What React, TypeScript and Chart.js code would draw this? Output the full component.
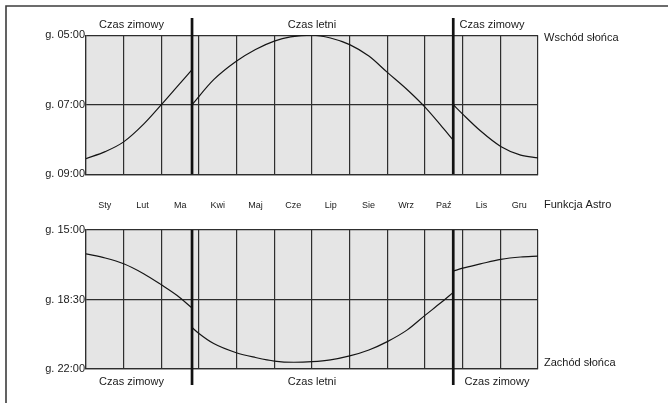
import React, { useEffect, useRef } from "react";
import { Chart, registerables } from "chart.js";

Chart.register(...registerables);

// ---- data ----
const monthLabels = ["Sty", "Lut", "Ma", "Kwi", "Maj", "Cze", "Lip", "Sie", "Wrz", "Paź", "Lis", "Gru"];
const monthCenters = [0.5, 1.5, 2.5, 3.5, 4.5, 5.5, 6.5, 7.5, 8.5, 9.5, 10.5, 11.5];
const dstSwitch = [2.815, 9.75];

// sunrise (hours), x in months
const riseWinter1X = [0, 0.51, 1, 1.53, 2, 2.42, 2.815];
const riseWinter1Y = [8.55, 8.35, 8.07, 7.56, 7.0, 6.48, 5.99];
const riseSummerX = [2.815, 3.39, 3.99, 4.5, 5.0, 5.43, 6.0, 6.49, 7.0, 7.51, 8.0, 8.53, 9.0, 9.41, 9.75];
const riseSummerY = [7.0, 6.28, 5.75, 5.41, 5.17, 5.05, 5.0, 5.08, 5.27, 5.6, 6.07, 6.57, 7.07, 7.58, 8.02];
const riseWinter2X = [9.75, 10.0, 10.47, 11.01, 11.54, 12];
const riseWinter2Y = [7.0, 7.27, 7.75, 8.2, 8.45, 8.53];

// sunset (hours)
const setWinter1X = [0, 0.51, 1, 1.53, 2, 2.42, 2.815];
const setWinter1Y = [16.2, 16.41, 16.7, 17.2, 17.76, 18.3, 18.93];
const setSummerX = [2.815, 2.99, 3.39, 3.99, 4.5, 5.0, 5.52, 6.0, 6.49, 7.0, 7.51, 8.0, 8.53, 9.0, 9.41, 9.75];
const setSummerY = [19.91, 20.2, 20.72, 21.18, 21.42, 21.6, 21.66, 21.63, 21.54, 21.34, 21.04, 20.62, 20.03, 19.3, 18.68, 18.14];
const setWinter2X = [9.75, 10.0, 10.47, 11.01, 11.54, 12];
const setWinter2Y = [17.07, 16.92, 16.71, 16.48, 16.36, 16.32];

const riseTicks = [5, 7, 9];
const setTicks = [15, 18.5, 22];

// ---- styles ----
const FONT = "'Liberation Sans', Arial, sans-serif";
const TEXT = "#1a1a1a";
const GRID = "#2e2e2e";
const BG = "#e5e5e5";
const W = 668;
const H = 403;

const pts = (xs: number[], ys: number[]) => xs.map((x, i) => ({ x, y: ys[i] }));

const fmt = (v: number) => {
  const h = Math.floor(v);
  const m = Math.round((v - h) * 60);
  return `g. ${String(h).padStart(2, "0")}:${String(m).padStart(2, "0")}`;
};

const lineDs = (data: { x: number; y: number }[]) => ({
  type: "line" as const,
  data,
  borderColor: "#151515",
  borderWidth: 1.2,
  pointRadius: 0,
  fill: false,
  cubicInterpolationMode: "monotone" as const,
});

type Panel = {
  texts: { t: string; x: number; y: number; align: CanvasTextAlign }[];
  thickTop: number;
  thickBottom: number;
  frame: boolean;
};

const panelPlugin = {
  id: "panelDeco",
  beforeDraw(chart: any) {
    const { ctx, chartArea } = chart;
    ctx.save();
    ctx.fillStyle = BG;
    ctx.fillRect(chartArea.left, chartArea.top, chartArea.right - chartArea.left, chartArea.bottom - chartArea.top);
    ctx.restore();
  },
  afterDraw(chart: any, _a: any, opts: Panel) {
    const { ctx } = chart;
    const xs = chart.scales.x;
    ctx.save();
    // DST switch lines
    ctx.strokeStyle = "#111";
    ctx.lineWidth = 2.7;
    for (const v of dstSwitch) {
      const px = xs.getPixelForValue(v);
      ctx.beginPath();
      ctx.moveTo(px, opts.thickTop);
      ctx.lineTo(px, opts.thickBottom);
      ctx.stroke();
    }
    // texts
    ctx.fillStyle = TEXT;
    ctx.font = `11px ${FONT}`;
    ctx.textBaseline = "middle";
    for (const t of opts.texts) {
      ctx.textAlign = t.align;
      ctx.fillText(t.t, t.x, t.y);
    }
    if (opts.frame) {
      ctx.strokeStyle = "#3c3c3c";
      ctx.lineWidth = 1.6;
      ctx.beginPath();
      ctx.moveTo(6, H + 2);
      ctx.lineTo(6, 6);
      ctx.lineTo(W + 2, 6);
      ctx.stroke();
    }
    ctx.restore();
  },
};

const yAxis = (min: number, max: number, ticks: number[]) => ({
  position: "left" as const,
  min,
  max,
  reverse: true,
  afterFit(scale: any) {
    scale.width = 86;
  },
  afterBuildTicks(scale: any) {
    scale.ticks = ticks.map((v) => ({ value: v }));
  },
  grid: { color: GRID, lineWidth: 1.2, drawTicks: false },
  border: { color: GRID, width: 1.2 },
  ticks: {
    padding: 1,
    color: TEXT,
    font: { family: FONT, size: 11 },
    callback: (v: number) => fmt(v),
  },
});

const xGridAxis = {
  type: "linear" as const,
  position: "bottom" as const,
  min: 0,
  max: 12,
  afterBuildTicks(scale: any) {
    scale.ticks = Array.from({ length: 13 }, (_, i) => ({ value: i }));
  },
  grid: { color: GRID, lineWidth: 1.2, drawTicks: false },
  border: { color: GRID, width: 1.2 },
  ticks: { display: false },
};

export default function App() {
  const topRef = useRef<HTMLCanvasElement | null>(null);
  const botRef = useRef<HTMLCanvasElement | null>(null);

  useEffect(() => {
    const top = new Chart(topRef.current as HTMLCanvasElement, {
      type: "line",
      data: {
        datasets: [
          lineDs(pts(riseWinter1X, riseWinter1Y)),
          lineDs(pts(riseSummerX, riseSummerY)),
          lineDs(pts(riseWinter2X, riseWinter2Y)),
        ],
      },
      options: {
        responsive: false,
        animation: false,
        events: [],
        layout: { padding: { left: 0, right: 130, top: 35.2, bottom: H - 174.2 - 40 } },
        plugins: {
          legend: { display: false },
          tooltip: { enabled: false },
          panelDeco: {
            thickTop: 18,
            thickBottom: 174.2,
            frame: true,
            texts: [
              { t: "Czas zimowy", x: 131.5, y: 25, align: "center" },
              { t: "Czas letni", x: 312, y: 25, align: "center" },
              { t: "Czas zimowy", x: 492, y: 25, align: "center" },
              { t: "Wschód słońca", x: 544, y: 37.5, align: "left" },
              { t: "Funkcja Astro", x: 544, y: 205, align: "left" },
            ],
          },
        } as any,
        scales: {
          x: xGridAxis,
          xl: {
            type: "linear",
            position: "bottom",
            min: 0,
            max: 12,
            afterBuildTicks(scale: any) {
              scale.ticks = monthCenters.map((v) => ({ value: v }));
            },
            afterFit(scale: any) {
              scale.height = 40;
            },
            grid: { display: false, drawTicks: false },
            border: { display: false },
            ticks: {
              padding: 25.5,
              autoSkip: false,
              maxRotation: 0,
              color: TEXT,
              font: { family: FONT, size: 9 },
              callback: (_v: number, i: number) => monthLabels[i],
            },
          },
          y: yAxis(5, 9, riseTicks),
        } as any,
      },
      plugins: [panelPlugin],
    });

    const bot = new Chart(botRef.current as HTMLCanvasElement, {
      type: "line",
      data: {
        datasets: [
          lineDs(pts(setWinter1X, setWinter1Y)),
          lineDs(pts(setSummerX, setSummerY)),
          lineDs(pts(setWinter2X, setWinter2Y)),
        ],
      },
      options: {
        responsive: false,
        animation: false,
        events: [],
        layout: { padding: { left: 0, right: 130, top: 230, bottom: H - 369 } },
        plugins: {
          legend: { display: false },
          tooltip: { enabled: false },
          panelDeco: {
            thickTop: 230,
            thickBottom: 385,
            frame: false,
            texts: [
              { t: "Czas zimowy", x: 131.5, y: 381.5, align: "center" },
              { t: "Czas letni", x: 312, y: 381.5, align: "center" },
              { t: "Czas zimowy", x: 497, y: 381.5, align: "center" },
              { t: "Zachód słońca", x: 544, y: 362.5, align: "left" },
            ],
          },
        } as any,
        scales: {
          x: xGridAxis,
          y: yAxis(15, 22, setTicks),
        } as any,
      },
      plugins: [panelPlugin],
    });

    return () => {
      top.destroy();
      bot.destroy();
    };
  }, []);

  const cs: React.CSSProperties = { position: "absolute", left: 0, top: 0, display: "block" };
  return (
    <div style={{ position: "fixed", left: 0, top: 0, width: W, height: H, background: "#fff" }}>
      <canvas ref={topRef} width={W} height={H} style={cs} />
      <canvas ref={botRef} width={W} height={H} style={cs} />
    </div>
  );
}
